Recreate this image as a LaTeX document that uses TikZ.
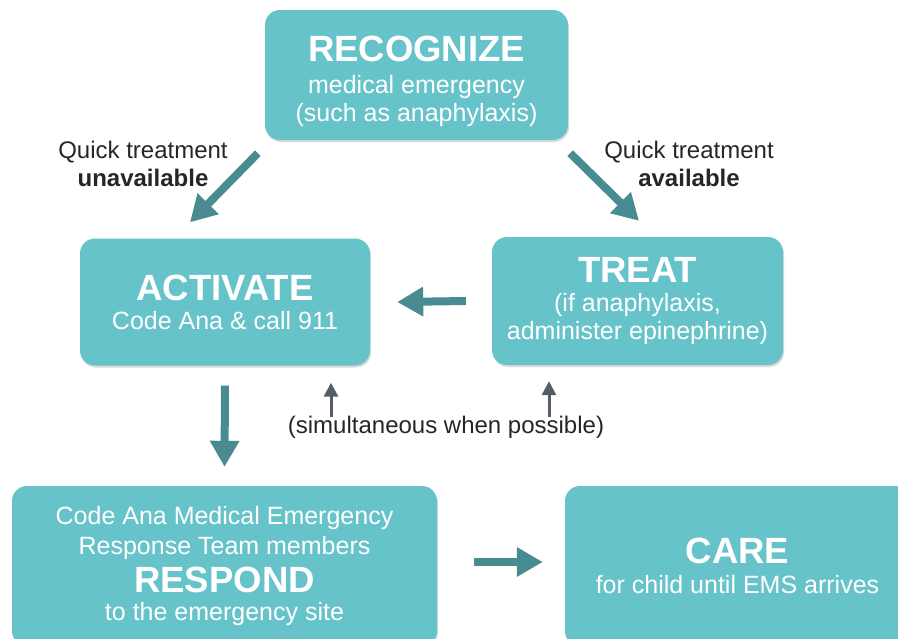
\documentclass[tikz,border=0pt]{standalone}
\usepackage{fontspec}
\setmainfont{Liberation Sans}
\usepackage{xcolor}
\usepackage{tikz}
\usetikzlibrary{shapes.geometric, arrows.meta, shadows}
\definecolor{boxteal}{RGB}{103,195,202}
\definecolor{arrowteal}{RGB}{72,140,145}
\definecolor{pointgray}{RGB}{85,94,102}
\newcommand{\steptitle}[1]{{\fontsize{36.5}{40}\selectfont\bfseries #1}}
\tikzstyle{stepbox} = [rectangle, rounded corners=15pt, inner sep=0pt, text centered, align=center, fill=boxteal, text=white, font=\fontsize{25}{28}\selectfont, drop shadow={shadow xshift=1pt, shadow yshift=-2pt, opacity=0.3}]
\tikzstyle{arrow} = [line width=8pt, draw=arrowteal, -{Triangle[width=28pt,length=26pt]}]
\tikzstyle{pointer} = [line width=3pt, draw=pointgray, -{Triangle[width=14pt,length=14pt]}]
\tikzstyle{note} = [align=center, inner sep=0pt, text=black!85, font=\fontsize{24}{28}\selectfont]

\begin{document}
\begin{tikzpicture}[x=1pt, y=-1pt]
\clip (0,0) rectangle (898,638);

% Nodes
\node (recognize) [stepbox, minimum width=303pt, minimum height=130pt] at (416.5,75) {\rule{0pt}{38pt}\steptitle{RECOGNIZE}\\[4pt] medical emergency\\ (such as anaphylaxis)};
\node (activate) [stepbox, minimum width=290pt, minimum height=127pt] at (225,302) {\steptitle{ACTIVATE}\\[1pt] Code Ana \& call 911};
\node (treat) [stepbox, minimum width=291pt, minimum height=128pt] at (637.5,301) {\steptitle{TREAT}\\[1pt] (if anaphylaxis,\\ administer epinephrine)};
\node (respond) [stepbox, minimum width=425pt, minimum height=160pt] at (224.5,566) {Code Ana Medical Emergency\\[2pt] Response Team members\\[6pt] \steptitle{RESPOND}\\ to the emergency site};
\node (care) [stepbox, minimum width=345pt, minimum height=160pt] at (737.5,566) {\steptitle{CARE}\\[2pt] for child until EMS arrives};

\node (nolabel) [note] at (143,164) {Quick treatment\\ \textbf{unavailable}};
\node (yeslabel) [note] at (689,164) {Quick treatment\\ \textbf{available}};
\node (simul) [note] at (446,427) {(simultaneous when possible)};

% Arrows
\draw [arrow] ([shift={(-7,13)}]recognize.south west) -- ([shift={(-35,-16)}]activate.north);
\draw [arrow] ([shift={(2,13)}]recognize.south east) -- ([shift={(1.5,-16)}]treat.north);
\draw [arrow] ([shift={(-26,0)}]treat.west) -- ([shift={(27,0)}]activate.east);
\draw [arrow] ([shift={(0,20)}]activate.south) -- ([shift={(0,-19)}]respond.north);
\draw [arrow] ([shift={(37,-4)}]respond.east) -- ([shift={(-22,-4)}]care.west);
\draw [pointer] ([shift={(-115,-10)}]simul.center) -- ([shift={(106,17)}]activate.south);
\draw [pointer] ([shift={(103,-10)}]simul.center) -- ([shift={(-88.5,16)}]treat.south);

\end{tikzpicture}
\end{document}
